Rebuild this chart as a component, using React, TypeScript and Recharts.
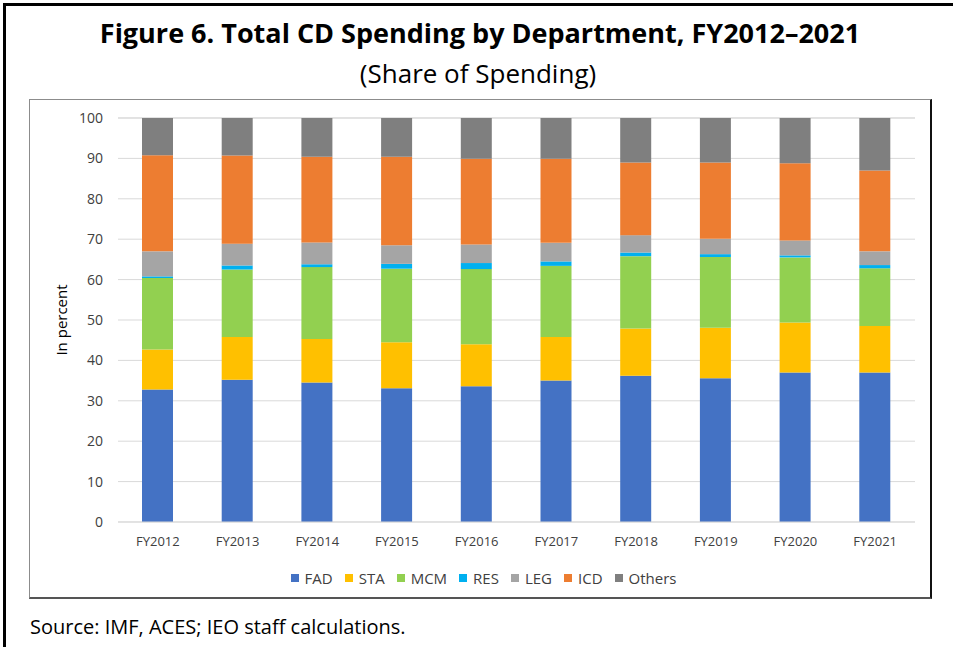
import { BarChart, Bar, XAxis, YAxis, CartesianGrid, Legend, Label } from "recharts";

const years = ["FY2012", "FY2013", "FY2014", "FY2015", "FY2016", "FY2017", "FY2018", "FY2019", "FY2020", "FY2021"];

const fad = [32.8, 35.2, 34.5, 33.1, 33.6, 35.0, 36.2, 35.6, 37.0, 37.0];
const sta = [9.9, 10.6, 10.8, 11.4, 10.4, 10.8, 11.7, 12.5, 12.4, 11.5];
const mcm = [17.7, 16.7, 17.8, 18.2, 18.6, 17.6, 17.9, 17.5, 16.1, 14.3];
const res = [0.4, 1.0, 0.7, 1.2, 1.5, 1.1, 0.9, 0.7, 0.5, 0.8];
const leg = [6.2, 5.4, 5.4, 4.6, 4.6, 4.6, 4.3, 3.8, 3.7, 3.4];
const icd = [23.8, 21.8, 21.2, 21.9, 21.2, 20.8, 18.0, 18.9, 19.1, 20.0];
const others = [9.2, 9.3, 9.6, 9.6, 10.1, 10.1, 11.0, 11.0, 11.2, 13.0];

const yTicks = [0, 10, 20, 30, 40, 50, 60, 70, 80, 90, 100];

const series = [
  { key: "FAD", color: "#4472C4" },
  { key: "STA", color: "#FFC000" },
  { key: "MCM", color: "#92D050" },
  { key: "RES", color: "#00B0F0" },
  { key: "LEG", color: "#A5A5A5" },
  { key: "ICD", color: "#ED7D31" },
  { key: "Others", color: "#7F7F7F" },
];

const data = years.map((year, i) => ({
  year,
  FAD: fad[i],
  STA: sta[i],
  MCM: mcm[i],
  RES: res[i],
  LEG: leg[i],
  ICD: icd[i],
  Others: others[i],
}));

const FONT = "'Open Sans', 'Noto Sans', sans-serif";

function LegendContent() {
  return (
    <div style={{ display: "flex", justifyContent: "center", paddingTop: 6, paddingLeft: 22, fontFamily: FONT, fontSize: 15, color: "#404040" }}>
      {series.map((s, i) => (
        <span key={s.key} style={{ display: "flex", alignItems: "center", marginRight: i === series.length - 1 ? 0 : 12 }}>
          <span style={{ width: 8, height: 8, background: s.color, marginRight: 6, display: "inline-block" }} />
          {s.key}
        </span>
      ))}
    </div>
  );
}

export default function App() {
  return (
    <div style={{ position: "absolute", left: 0, top: 0, width: 953, height: 647, background: "#fff", fontFamily: FONT }}>
      <div style={{ position: "absolute", left: 3, top: 3, width: 950, height: 3, background: "#000" }} />
      <div style={{ position: "absolute", left: 3, top: 3, width: 3, height: 644, background: "#000" }} />
      <div style={{ position: "absolute", left: 0, top: 14, width: 960, textAlign: "center", fontWeight: 700, fontSize: 27, color: "#000" }}>
        Figure 6. Total CD Spending by Department, FY2012–2021
      </div>
      <div style={{ position: "absolute", left: 0, top: 55, width: 956, textAlign: "center", fontSize: 26, color: "#000" }}>
        (Share of Spending)
      </div>
      <div
        style={{
          position: "absolute",
          left: 29,
          top: 99,
          width: 903,
          height: 500,
          borderTop: "1px solid #8c8c8c",
          borderLeft: "1px solid #8c8c8c",
          borderRight: "2px solid #111",
          borderBottom: "2px solid #555",
          boxSizing: "border-box",
        }}
      >
        <BarChart width={900} height={497} data={data} margin={{ top: 18, right: 15, left: 0, bottom: 0 }} barSize={31}>
          <CartesianGrid vertical={false} stroke="#d9d9d9" />
          <XAxis
            dataKey="year"
            axisLine={{ stroke: "#d9d9d9" }}
            tickLine={false}
            tickMargin={9}
            height={40}
            tick={{ fill: "#404040", fontSize: 13, fontFamily: FONT }}
          />
          <YAxis
            domain={[0, 100]}
            ticks={yTicks}
            axisLine={false}
            tickLine={false}
            tickMargin={9}
            width={88}
            tick={{ fill: "#404040", fontSize: 14, fontFamily: FONT }}
          >
            <Label value="In percent" angle={-90} position="insideLeft" offset={32} style={{ fill: "#000", fontSize: 15, fontFamily: FONT, textAnchor: "middle" }} />
          </YAxis>
          <Legend verticalAlign="bottom" height={35} content={<LegendContent />} />
          {series.map((s) => (
            <Bar key={s.key} dataKey={s.key} stackId="a" fill={s.color} isAnimationActive={false} />
          ))}
        </BarChart>
      </div>
      <div style={{ position: "absolute", left: 30, top: 613, fontSize: 20, color: "#000" }}>
        Source: IMF, ACES; IEO staff calculations.
      </div>
    </div>
  );
}
